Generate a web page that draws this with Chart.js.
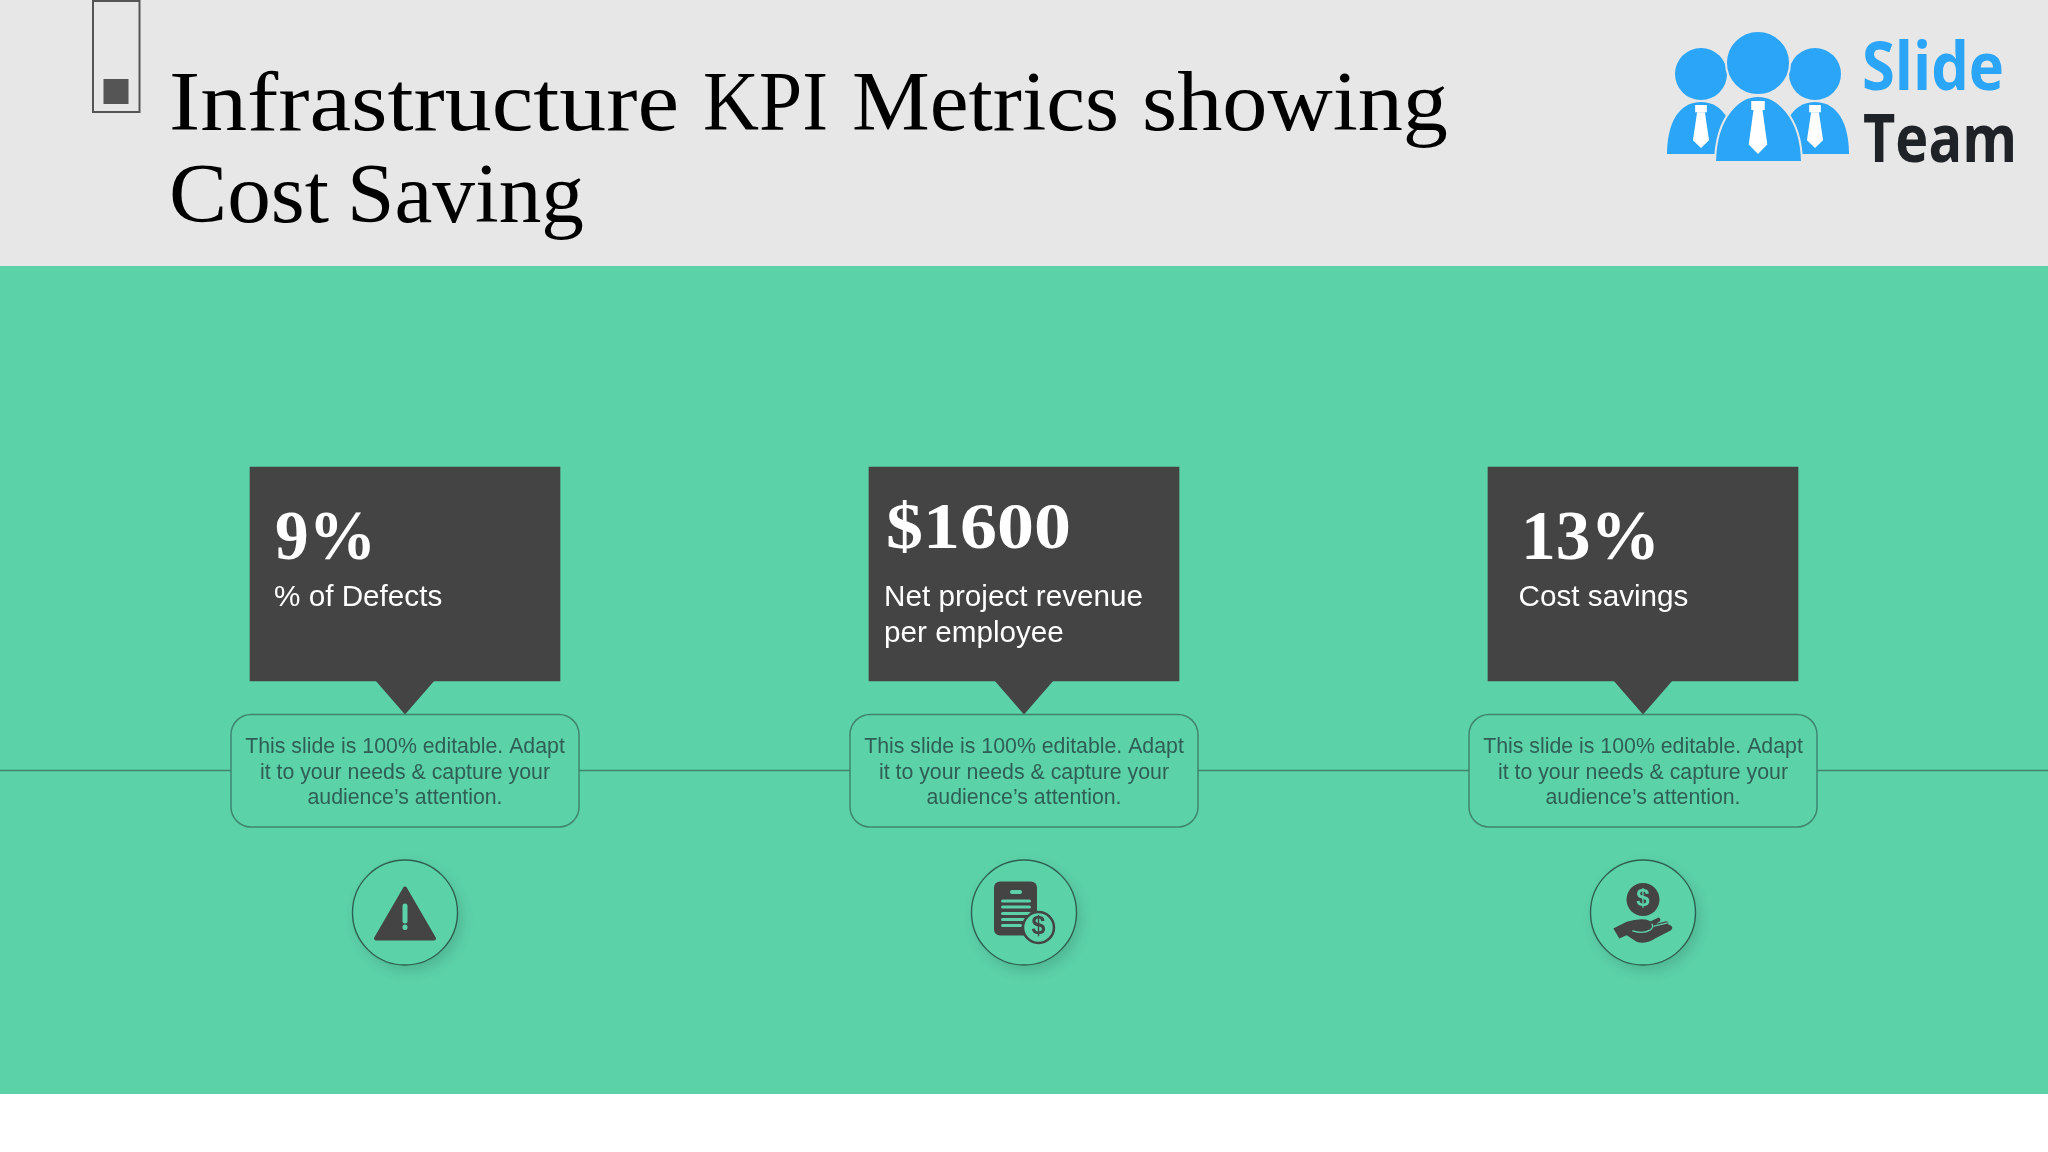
<!DOCTYPE html>
<html><head><meta charset="utf-8">
<style>html,body{margin:0;padding:0;background:#fff}canvas{display:block}</style>
<script src="https://cdn.jsdelivr.net/npm/chart.js@4"></script>
</head><body>
<canvas id="c" width="2048" height="1152"></canvas>
<script>
const titleLines = ['Infrastructure KPI Metrics showing', 'Cost Saving'];
const categories = ['% of Defects', 'Net project revenue per employee', 'Cost savings'];
const kpiValues = [9, 1600, 13];
const kpiLabels = ['9%', '$1600', '13%'];
const kpiCaptions = [['% of Defects'], ['Net project revenue', 'per employee'], ['Cost savings']];
const noteLines = ['This slide is 100% editable. Adapt', 'it to your needs & capture your', 'audience\u2019s attention.'];
const iconKinds = ['warning', 'invoice', 'savings'];

const GREEN = '#5cd2a9', DARK = '#444444', INK = '#2f5f54', RULE = '#3f8570';
const SANS = '"Liberation Sans"', SERIF = '"Liberation Serif"', LOGO = '"Open Sans"';

function fit(ctx, text, x, y, width) {
  ctx.save();
  ctx.textAlign = 'left';
  const w = ctx.measureText(text).width;
  ctx.translate(x, y);
  ctx.scale(width / w, 1);
  ctx.fillText(text, 0, 0);
  ctx.restore();
}
function round(ctx, x, y, w, h, r) {
  ctx.beginPath();
  ctx.roundRect(x, y, w, h, r);
}
function dollar(ctx, x, y, size, color) {
  ctx.fillStyle = color;
  ctx.font = `bold ${size}px ${SANS}`;
  ctx.textAlign = 'center';
  ctx.textBaseline = 'middle';
  ctx.fillText('$', x, y);
  ctx.textBaseline = 'alphabetic';
}
const icons = {
  warning(ctx) {
    ctx.fillStyle = DARK; ctx.strokeStyle = DARK; ctx.lineWidth = 4; ctx.lineJoin = 'round';
    ctx.beginPath(); ctx.moveTo(0, -24); ctx.lineTo(-29, 26); ctx.lineTo(29, 26); ctx.closePath();
    ctx.fill(); ctx.stroke();
    ctx.fillStyle = GREEN;
    round(ctx, -2.5, -9, 5, 20, 2.5); ctx.fill();
    round(ctx, -2.5, 12, 5, 5.5, 2.5); ctx.fill();
  },
  invoice(ctx) {
    ctx.fillStyle = DARK;
    round(ctx, -30, -31, 43, 54, 6); ctx.fill();
    ctx.fillStyle = GREEN;
    round(ctx, -14, -22.5, 12, 4, 2); ctx.fill();
    [[-11.5, 30], [-5.5, 30], [1, 30], [7, 30], [13, 21]].forEach(([dy, w]) => {
      round(ctx, -23, dy - 1.6, w, 3.2, 1.6); ctx.fill();
    });
    ctx.beginPath(); ctx.arc(14.5, 15, 15.5, 0, Math.PI * 2);
    ctx.fillStyle = GREEN; ctx.fill();
    ctx.strokeStyle = DARK; ctx.lineWidth = 2.5; ctx.stroke();
    dollar(ctx, 14.5, 15, 25, DARK);
  },
  savings(ctx) {
    ctx.fillStyle = DARK;
    ctx.beginPath(); ctx.arc(0, -13, 16.5, 0, Math.PI * 2); ctx.fill();
    dollar(ctx, 0, -13, 24, GREEN);
    ctx.save();
    ctx.scale(1 / 3, 1 / 3);
    ctx.translate(-249, -217);
    ctx.fillStyle = DARK;
    ctx.lineJoin = 'round';
    ctx.beginPath();
    ctx.moveTo(160, 265); ctx.lineTo(200, 245);
    ctx.quadraticCurveTo(230, 235, 258, 238);
    ctx.lineTo(272, 243); ctx.lineTo(296, 232);
    ctx.quadraticCurveTo(304, 236, 300, 243);
    ctx.lineTo(288, 251); ctx.lineTo(318, 243);
    ctx.quadraticCurveTo(328, 244, 324, 252);
    ctx.lineTo(332, 256);
    ctx.quadraticCurveTo(342, 262, 332, 271);
    ctx.lineTo(285, 295);
    ctx.quadraticCurveTo(255, 314, 230, 305);
    ctx.lineTo(200, 285); ctx.lineTo(178, 295);
    ctx.closePath(); ctx.fill();
    ctx.strokeStyle = GREEN; ctx.lineWidth = 4; ctx.lineCap = 'round';
    ctx.beginPath(); ctx.moveTo(218, 272);
    ctx.quadraticCurveTo(250, 282, 270, 270);
    ctx.quadraticCurveTo(282, 262, 276, 252); ctx.stroke();
    ctx.beginPath(); ctx.moveTo(282, 258); ctx.lineTo(322, 248); ctx.stroke();
    ctx.restore();
  }
};
function drawLogo(ctx) {
  const BLUE = '#2aa5f8';
  ctx.fillStyle = BLUE;
  [[1701, 74, 26], [1815, 74, 26]].forEach(([x, y, r]) => { ctx.beginPath(); ctx.arc(x, y, r, 0, Math.PI * 2); ctx.fill(); });
  const body = (l, r, t, b) => {
    const m = (l + r) / 2;
    ctx.beginPath();
    ctx.moveTo(l, b - 2);
    ctx.bezierCurveTo(l + 1, t + (b - t) * .25, m - (r - l) * .25, t, m, t);
    ctx.bezierCurveTo(m + (r - l) * .25, t, r - 1, t + (b - t) * .25, r, b - 2);
    ctx.lineTo(r, b); ctx.lineTo(l, b); ctx.closePath(); ctx.fill();
  };
  body(1667, 1735, 102, 154);
  body(1781, 1849, 102, 154);
  ctx.strokeStyle = '#e7e7e7'; ctx.lineWidth = 2;
  ctx.beginPath(); ctx.arc(1758, 63, 32, 0, Math.PI * 2); ctx.fill(); ctx.stroke();
  ctx.beginPath();
  ctx.moveTo(1715, 162); ctx.bezierCurveTo(1716, 115, 1740, 96, 1758, 96);
  ctx.bezierCurveTo(1776, 96, 1801, 115, 1802, 162); ctx.closePath();
  ctx.fill(); ctx.stroke();
  const tie = (x, t, b, w) => {
    ctx.fillStyle = '#ffffff';
    ctx.fillRect(x - w * .45, t, w * .9, (b - t) * .17);
    ctx.beginPath();
    ctx.moveTo(x - w * .3, t + (b - t) * .17);
    ctx.lineTo(x + w * .3, t + (b - t) * .17);
    ctx.lineTo(x + w * .62, t + (b - t) * .82);
    ctx.lineTo(x, b);
    ctx.lineTo(x - w * .62, t + (b - t) * .82);
    ctx.closePath(); ctx.fill();
  };
  tie(1701, 105, 148, 13);
  tie(1758, 101, 154, 15);
  tie(1815, 105, 148, 13);
  ctx.textAlign = 'left';
  ctx.font = `bold 66px ${LOGO}`;
  ctx.fillStyle = BLUE;
  fit(ctx, 'Slide', 1862, 90, 142);
  ctx.fillStyle = '#1f2328';
  fit(ctx, 'Team', 1863, 162, 154);
}

const slide = {
  id: 'slide',
  beforeDraw(chart) {
    const ctx = chart.ctx;
    ctx.save();
    ctx.fillStyle = '#ffffff'; ctx.fillRect(0, 0, 2048, 1152);
    ctx.fillStyle = '#e7e7e7'; ctx.fillRect(0, 0, 2048, 266);
    ctx.fillStyle = GREEN; ctx.fillRect(0, 266, 2048, 828);
    ctx.strokeStyle = '#555555'; ctx.lineWidth = 2;
    ctx.strokeRect(93, 1, 46.5, 111);
    ctx.fillStyle = '#555555'; ctx.fillRect(103.5, 79, 25, 25);
    ctx.fillStyle = '#000000';
    ctx.font = `85px ${SERIF}`;
    const wordBoxes = [[[169, 510], [703, 125], [852, 267], [1142, 306]], [[169, 160], [347, 237]]];
    titleLines.forEach((line, l) => {
      line.split(' ').forEach((word, k) => {
        const [wx, ww] = wordBoxes[l][k];
        fit(ctx, word, wx, l ? 222 : 130, ww);
      });
    });
    drawLogo(ctx);
    ctx.strokeStyle = RULE; ctx.lineWidth = 1.5;
    ctx.beginPath(); ctx.moveTo(0, 770.5); ctx.lineTo(2048, 770.5); ctx.stroke();
    ctx.restore();
  },
  afterDatasetsDraw(chart) {
    const ctx = chart.ctx, xs = chart.scales.x;
    const valueFit = [[25, 559, 101, 70], [17, 548, 185, 66], [33, 559, 139, 70]];
    const capX = [24, 15, 30.5];
    categories.forEach((cat, i) => {
      const cx = xs.getPixelForValue(i);
      ctx.save();
      ctx.translate(cx - 155, 0);
      const [vx, vy, vw, vs] = valueFit[i];
      ctx.fillStyle = '#ffffff';
      ctx.font = `bold ${vs}px ${SERIF}`;
      fit(ctx, kpiLabels[i], vx, vy, vw);
      ctx.font = `29.7px ${SANS}`;
      ctx.textAlign = 'left';
      kpiCaptions[i].forEach((t, k) => ctx.fillText(t, capX[i], 605.5 + k * 36));
      ctx.restore();

      ctx.save();
      ctx.translate(cx, 0);
      ctx.fillStyle = DARK;
      ctx.beginPath(); ctx.moveTo(-30, 680); ctx.lineTo(30, 680); ctx.lineTo(0, 714.5); ctx.closePath(); ctx.fill();
      round(ctx, -174, 714.5, 348, 112.5, 20);
      ctx.fillStyle = GREEN; ctx.fill();
      ctx.strokeStyle = RULE; ctx.lineWidth = 1.5; ctx.stroke();
      ctx.fillStyle = INK;
      ctx.font = `21.3px ${SANS}`;
      ctx.textAlign = 'center';
      noteLines.forEach((t, k) => ctx.fillText(t, 0, 753 + k * 25.5));

      ctx.translate(0, 912.5);
      ctx.save();
      ctx.shadowColor = 'rgba(0,0,0,0.14)';
      ctx.shadowBlur = 14; ctx.shadowOffsetX = 4; ctx.shadowOffsetY = 6;
      ctx.beginPath(); ctx.arc(0, 0, 52.5, 0, Math.PI * 2);
      ctx.fillStyle = GREEN; ctx.fill();
      ctx.restore();
      ctx.beginPath(); ctx.arc(0, 0, 52.5, 0, Math.PI * 2);
      ctx.strokeStyle = '#2f5f52'; ctx.lineWidth = 1.4; ctx.stroke();
      icons[iconKinds[i]](ctx);
      ctx.restore();
    });
  }
};

new Chart(document.getElementById('c'), {
  type: 'bar',
  plugins: [slide],
  data: {
    labels: categories,
    datasets: [{
      label: 'KPI',
      kpi: kpiValues,
      data: categories.map(() => [467, 681]),
      backgroundColor: DARK,
      borderWidth: 0,
      barThickness: 310
    }]
  },
  options: {
    responsive: false,
    animation: false,
    devicePixelRatio: 1,
    layout: { padding: { left: 95.5, right: 95.5, top: 0, bottom: 0 } },
    plugins: { legend: { display: false }, tooltip: { enabled: false }, title: { display: false } },
    scales: {
      x: { display: false },
      y: { display: false, reverse: true, min: 0, max: 1152 }
    }
  }
});
</script>
</body></html>
